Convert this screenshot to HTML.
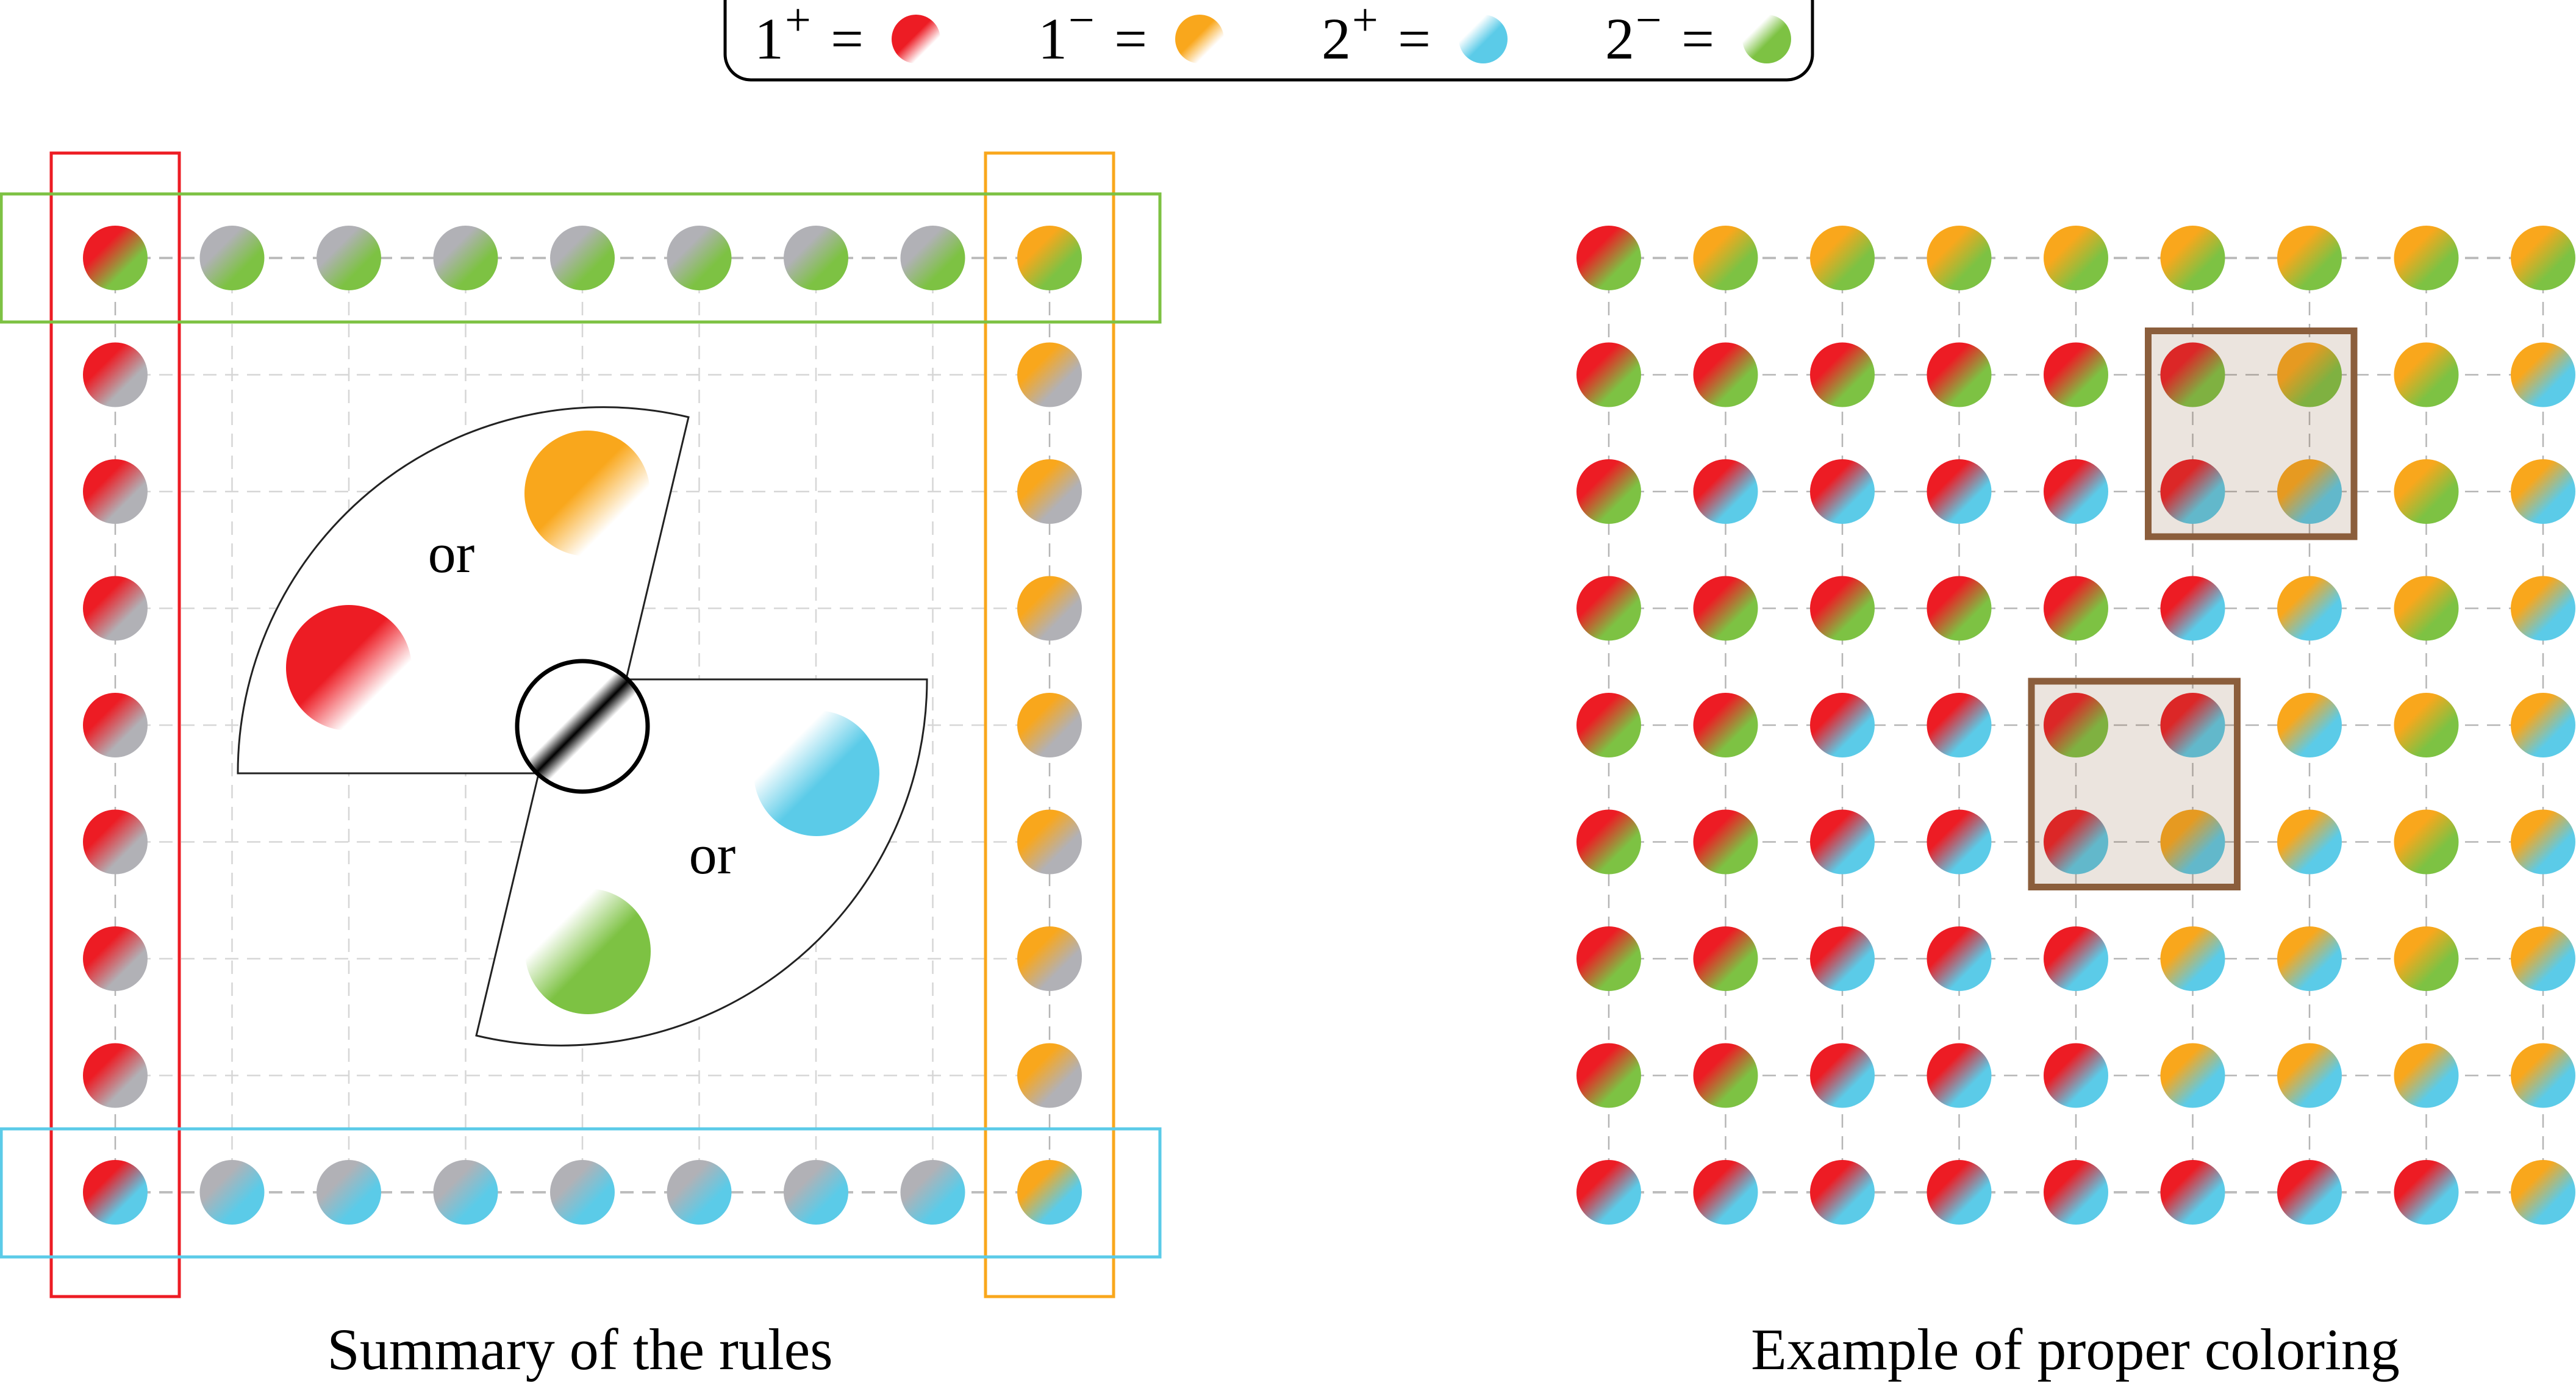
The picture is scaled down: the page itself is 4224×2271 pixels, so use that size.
<!DOCTYPE html>
<html><head><meta charset="utf-8"><style>
html,body{margin:0;padding:0;background:#fff;}
svg{display:block;}
text{font-family:"Liberation Serif",serif;fill:#000;}
</style></head><body>
<svg id="fig" width="4224" height="2271" viewBox="0 0 4224 2271" xmlns="http://www.w3.org/2000/svg">
<defs>
  <linearGradient id="fadeR" x1="0" y1="0" x2="1" y2="1"><stop offset="0" stop-color="#ed1c24"/><stop offset="0.45" stop-color="#ed1c24"/><stop offset="0.72" stop-color="#ed1c24" stop-opacity="0"/></linearGradient>
  <linearGradient id="fadeO" x1="0" y1="0" x2="1" y2="1"><stop offset="0" stop-color="#f9a71c"/><stop offset="0.45" stop-color="#f9a71c"/><stop offset="0.72" stop-color="#f9a71c" stop-opacity="0"/></linearGradient>
  <linearGradient id="fadeB" x1="0" y1="0" x2="1" y2="1"><stop offset="0.28" stop-color="#5bcbe8" stop-opacity="0"/><stop offset="0.55" stop-color="#5bcbe8"/><stop offset="1" stop-color="#5bcbe8"/></linearGradient>
  <linearGradient id="fadeG" x1="0" y1="0" x2="1" y2="1"><stop offset="0.28" stop-color="#7dc243" stop-opacity="0"/><stop offset="0.55" stop-color="#7dc243"/><stop offset="1" stop-color="#7dc243"/></linearGradient>
  <linearGradient id="stripe" x1="0" y1="0" x2="1" y2="1"><stop offset="0.42" stop-color="#fff"/><stop offset="0.5" stop-color="#000"/><stop offset="0.58" stop-color="#fff"/></linearGradient>
</defs>
<g id="layer"></g>
</svg>
<script>
// Colour codes: R=1+ (red), O=1- (orange), B=2+ (blue), G=2- (green), X=undetermined (gray), "--" = empty
const leftRows = [
 "RG XG XG XG XG XG XG XG OG",
 "RX -- -- -- -- -- -- -- OX",
 "RX -- -- -- -- -- -- -- OX",
 "RX -- -- -- -- -- -- -- OX",
 "RX -- -- -- -- -- -- -- OX",
 "RX -- -- -- -- -- -- -- OX",
 "RX -- -- -- -- -- -- -- OX",
 "RX -- -- -- -- -- -- -- OX",
 "RB XB XB XB XB XB XB XB OB"
];
const rightRows = [
 "RG OG OG OG OG OG OG OG OG",
 "RG RG RG RG RG RG OG OG OB",
 "RG RB RB RB RB RB OB OG OB",
 "RG RG RG RG RG RB OB OG OB",
 "RG RG RB RB RG RB OB OG OB",
 "RG RG RB RB RB OB OB OG OB",
 "RG RG RB RB RB OB OB OG OB",
 "RG RG RB RB RB OB OB OB OB",
 "RB RB RB RB RB RB RB RB OB"
];
const highlightBoxes = [[5,1],[4,4]]; // [col,row] of top-left cell of 2x2 highlighted blocks
const legendLabels = ["1","1","2","2"];
const legendSigns = ["+","\u2212","+","\u2212"];
const legendCodes = ["R","O","B","G"];

const COL = {R:"#ed1c24",O:"#f9a71c",B:"#5bcbe8",G:"#7dc243",X:"#b1b1b6"};
const NS="http://www.w3.org/2000/svg";
const layer=document.getElementById('layer');
const defs=document.querySelector('defs');
function mk(tag,attrs,parent){const e=document.createElementNS(NS,tag);for(const k in attrs)e.setAttribute(k,attrs[k]);(parent||layer).appendChild(e);return e;}
const STEP=191.5, R=53;
function gx(x0,i){return x0+i*STEP;}
function gy(j){return 423+j*STEP;}
const gradCache={};
function grad(a,b){
  const id="g"+a+b; if(gradCache[id])return id; gradCache[id]=1;
  const g=mk('linearGradient',{id:id,x1:0,y1:0,x2:1,y2:1},defs);
  mk('stop',{offset:0.33,'stop-color':COL[a]},g);
  mk('stop',{offset:0.67,'stop-color':COL[b]},g);
  return id;
}
function drawGrid(x0,rows,name,inner){
  const g=mk('g',{});
  
  
  const n=rows.length;
  for(let j=0;j<n;j++){
    const edge=(j==0||j==n-1);
    const l=mk('line',{x1:gx(x0,0),x2:gx(x0,n-1),y1:gy(j),y2:gy(j),stroke:edge?"#bdbdbd":inner,"stroke-width":edge?4:2.5,"stroke-dasharray":"22 14"},g);
    
    
  }
  for(let i=0;i<n;i++){
    const edge=(i==0||i==n-1);
    const l=mk('line',{x1:gx(x0,i),x2:gx(x0,i),y1:gy(0),y2:gy(n-1),stroke:edge?"#b5b5b5":inner,"stroke-width":2.5,"stroke-dasharray":"22 14"},g);
    
    
  }
  rows.forEach((row,j)=>{
    row.split(" ").forEach((code,i)=>{
      if(code==="--")return;
      const c=mk('circle',{cx:gx(x0,i),cy:gy(j),r:R,fill:"url(#"+grad(code[0],code[1])+")"},g);
      
      
    });
  });
  return g;
}
drawGrid(189,leftRows,'rules-grid',"#d6d6d6");
drawGrid(2638,rightRows,'example-grid',"#b5b5b5");

// highlight boxes
highlightBoxes.forEach(([c,r])=>{
  const x=gx(2638,c)-73, y=gy(r)-72;
  const b=mk('rect',{x:x,y:y,width:STEP+146,height:STEP+146,fill:"rgba(139,94,60,0.17)",stroke:"#8b5e3c","stroke-width":11});
  
  
});

// rule rectangles
[["red-column-box",84,251,210,1875,"#ed1c24"],["orange-column-box",1616,251,210,1875,"#f9a71c"],
 ["green-row-box",2,318,1900,210,"#7dc243"],["blue-row-box",2,1851,1900,210,"#5bcbe8"]].forEach(d=>{
  const b=mk('rect',{x:d[1],y:d[2],width:d[3],height:d[4],fill:"none",stroke:d[5],"stroke-width":5});
  
  
});

// fans
function fan(rot,name){
  const g=mk('g',{transform:"rotate("+rot+" 955 1191)"});
  
  
  const p=mk('path',{d:"M990,1268 L390,1268 A600,600 0 0 1 1129,684 Z",fill:"#fff",stroke:"#222","stroke-width":3},g);
  
  
  return g;
}
fan(0,'fan-plus');
fan(180,'fan-minus');
[["fan-red-disc",572,1095,"fadeR"],["fan-orange-disc",963,809,"fadeO"],["fan-blue-disc",1339,1268,"fadeB"],["fan-green-disc",964,1560,"fadeG"]].forEach(d=>{
  const c=mk('circle',{cx:d[1],cy:d[2],r:103,fill:"url(#"+d[3]+")"});
  
  
});
[[740,938],[1168,1432]].forEach(p=>{
  const t=mk('text',{x:p[0],y:p[1],"font-size":92,"text-anchor":"middle"});
  t.textContent="or";
  
  
});
const cc=mk('circle',{cx:955,cy:1191,r:107,fill:"url(#stripe)",stroke:"#000","stroke-width":7});



// legend
const lg=mk('g',{});


const lb=mk('rect',{x:1189,y:-40,width:1783,height:171,rx:42,fill:"#fff",stroke:"#000","stroke-width":5},lg);


const fadeMap={R:"fadeR",O:"fadeO",B:"fadeB",G:"fadeG"};
legendLabels.forEach((lab,k)=>{
  const x=1237+k*465;
  const t=mk('text',{x:x,y:96,"font-size":96},lg);
  t.textContent=lab;
  
  
  const s=mk('text',{x:x+50,y:58,"font-size":76},lg);
  s.textContent=legendSigns[k];
  
  
  const e=mk('text',{x:x+125,y:96,"font-size":96},lg);
  e.textContent="=";
  
  
  const c=mk('circle',{cx:x+265,cy:64,r:40,fill:"url(#"+fadeMap[legendCodes[k]]+")"},lg);
  
  
});

// captions
[[951,"Summary of the rules","caption-rules"],[3403,"Example of proper coloring","caption-example"]].forEach(d=>{
  const t=mk('text',{x:d[0],y:2245,"font-size":96,"text-anchor":"middle"});
  t.textContent=d[1];
  
  
});
</script>
</body></html>
